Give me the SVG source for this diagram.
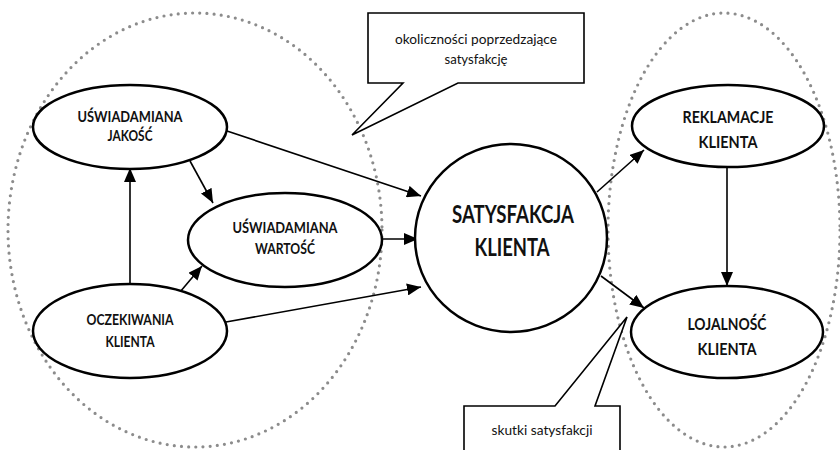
<svg xmlns="http://www.w3.org/2000/svg" width="840" height="450" viewBox="0 0 840 450">
<style>
.node{fill:#fff;stroke:#000;stroke-width:2.5}
.group{fill:none;stroke:#8c8c8c;stroke-width:3.2;stroke-dasharray:0 7.2;stroke-linecap:round}
.conn{fill:none;stroke:#000;stroke-width:1.6}
.callout{fill:#fff;stroke:#000;stroke-width:1.6;stroke-linejoin:miter}
text{font-family:Lato,"Liberation Sans",sans-serif;fill:#111;text-anchor:middle}
.t{font-weight:bold;font-size:14.5px}
.tl{font-weight:bold;font-size:17px}
.tb{font-weight:bold;font-size:24px}
.c{font-size:14px}
</style>
<defs>
<marker id="ah" viewBox="0 0 14 12" refX="14" refY="6" markerWidth="14" markerHeight="12" markerUnits="userSpaceOnUse" orient="auto">
<path d="M0,0 L14,6 L0,12 Z" fill="#000"/>
</marker>
</defs>
<g id="groups">
<ellipse class="group" cx="195" cy="230" rx="187" ry="217"/>
<ellipse class="group" cx="724" cy="230" rx="116" ry="217"/>
</g>
<g id="connectors">
<line class="conn" x1="227" y1="131" x2="421" y2="196" marker-end="url(#ah)"/>
<line class="conn" x1="190" y1="161" x2="213" y2="203" marker-end="url(#ah)"/>
<line class="conn" x1="130" y1="285" x2="130" y2="168" marker-end="url(#ah)"/>
<line class="conn" x1="180" y1="292" x2="202" y2="266" marker-end="url(#ah)"/>
<line class="conn" x1="382" y1="239" x2="418" y2="239" marker-end="url(#ah)"/>
<line class="conn" x1="226" y1="322" x2="421" y2="287" marker-end="url(#ah)"/>
<line class="conn" x1="597" y1="192" x2="644" y2="150" marker-end="url(#ah)"/>
<line class="conn" x1="727" y1="167" x2="727" y2="286" marker-end="url(#ah)"/>
<line class="conn" x1="601" y1="276" x2="644" y2="308" marker-end="url(#ah)"/>
</g>
<g id="n-jakosc">
<ellipse class="node" cx="130" cy="127" rx="97" ry="42"/>
<text class="t" x="130" y="122" textLength="105" lengthAdjust="spacingAndGlyphs">UŚWIADAMIANA</text>
<text class="t" x="130" y="141" textLength="45" lengthAdjust="spacingAndGlyphs">JAKOŚĆ</text>
</g>
<g id="n-wartosc">
<ellipse class="node" cx="285" cy="240" rx="97" ry="47"/>
<text class="t" x="285" y="233" textLength="105" lengthAdjust="spacingAndGlyphs">UŚWIADAMIANA</text>
<text class="t" x="285" y="254" textLength="60" lengthAdjust="spacingAndGlyphs">WARTOŚĆ</text>
</g>
<g id="n-oczekiwania">
<ellipse class="node" cx="130" cy="331" rx="97" ry="47"/>
<text class="t" x="130" y="325" textLength="87" lengthAdjust="spacingAndGlyphs">OCZEKIWANIA</text>
<text class="t" x="130" y="347" textLength="49" lengthAdjust="spacingAndGlyphs">KLIENTA</text>
</g>
<g id="n-satysfakcja">
<ellipse class="node" cx="511" cy="238" rx="96" ry="94"/>
<text class="tb" x="513" y="223" textLength="122" lengthAdjust="spacingAndGlyphs">SATYSFAKCJA</text>
<text class="tb" x="512" y="256" textLength="75" lengthAdjust="spacingAndGlyphs">KLIENTA</text>
</g>
<g id="n-reklamacje">
<ellipse class="node" cx="728" cy="126" rx="96" ry="41"/>
<text class="tl" x="728" y="123" textLength="91" lengthAdjust="spacingAndGlyphs">REKLAMACJE</text>
<text class="tl" x="728" y="148" textLength="59" lengthAdjust="spacingAndGlyphs">KLIENTA</text>
</g>
<g id="n-lojalnosc">
<ellipse class="node" cx="727" cy="332" rx="96" ry="46"/>
<text class="tl" x="727" y="330" textLength="79" lengthAdjust="spacingAndGlyphs">LOJALNOŚĆ</text>
<text class="tl" x="727" y="355" textLength="59" lengthAdjust="spacingAndGlyphs">KLIENTA</text>
</g>
<g id="callout-okolicznosci">
<path class="callout" d="M368,13 H584 V83 H458 L352,135 L403,83 H368 Z"/>
<text class="c" x="476" y="44" textLength="162" lengthAdjust="spacingAndGlyphs">okoliczności poprzedzające</text>
<text class="c" x="476" y="64" textLength="63" lengthAdjust="spacingAndGlyphs">satysfakcję</text>
</g>
<g id="callout-skutki">
<path class="callout" d="M464,452 V406 H555 L627,317 L595,406 H620 V452"/>
<text class="c" x="542" y="435" textLength="101" lengthAdjust="spacingAndGlyphs">skutki satysfakcji</text>
</g>
</svg>
